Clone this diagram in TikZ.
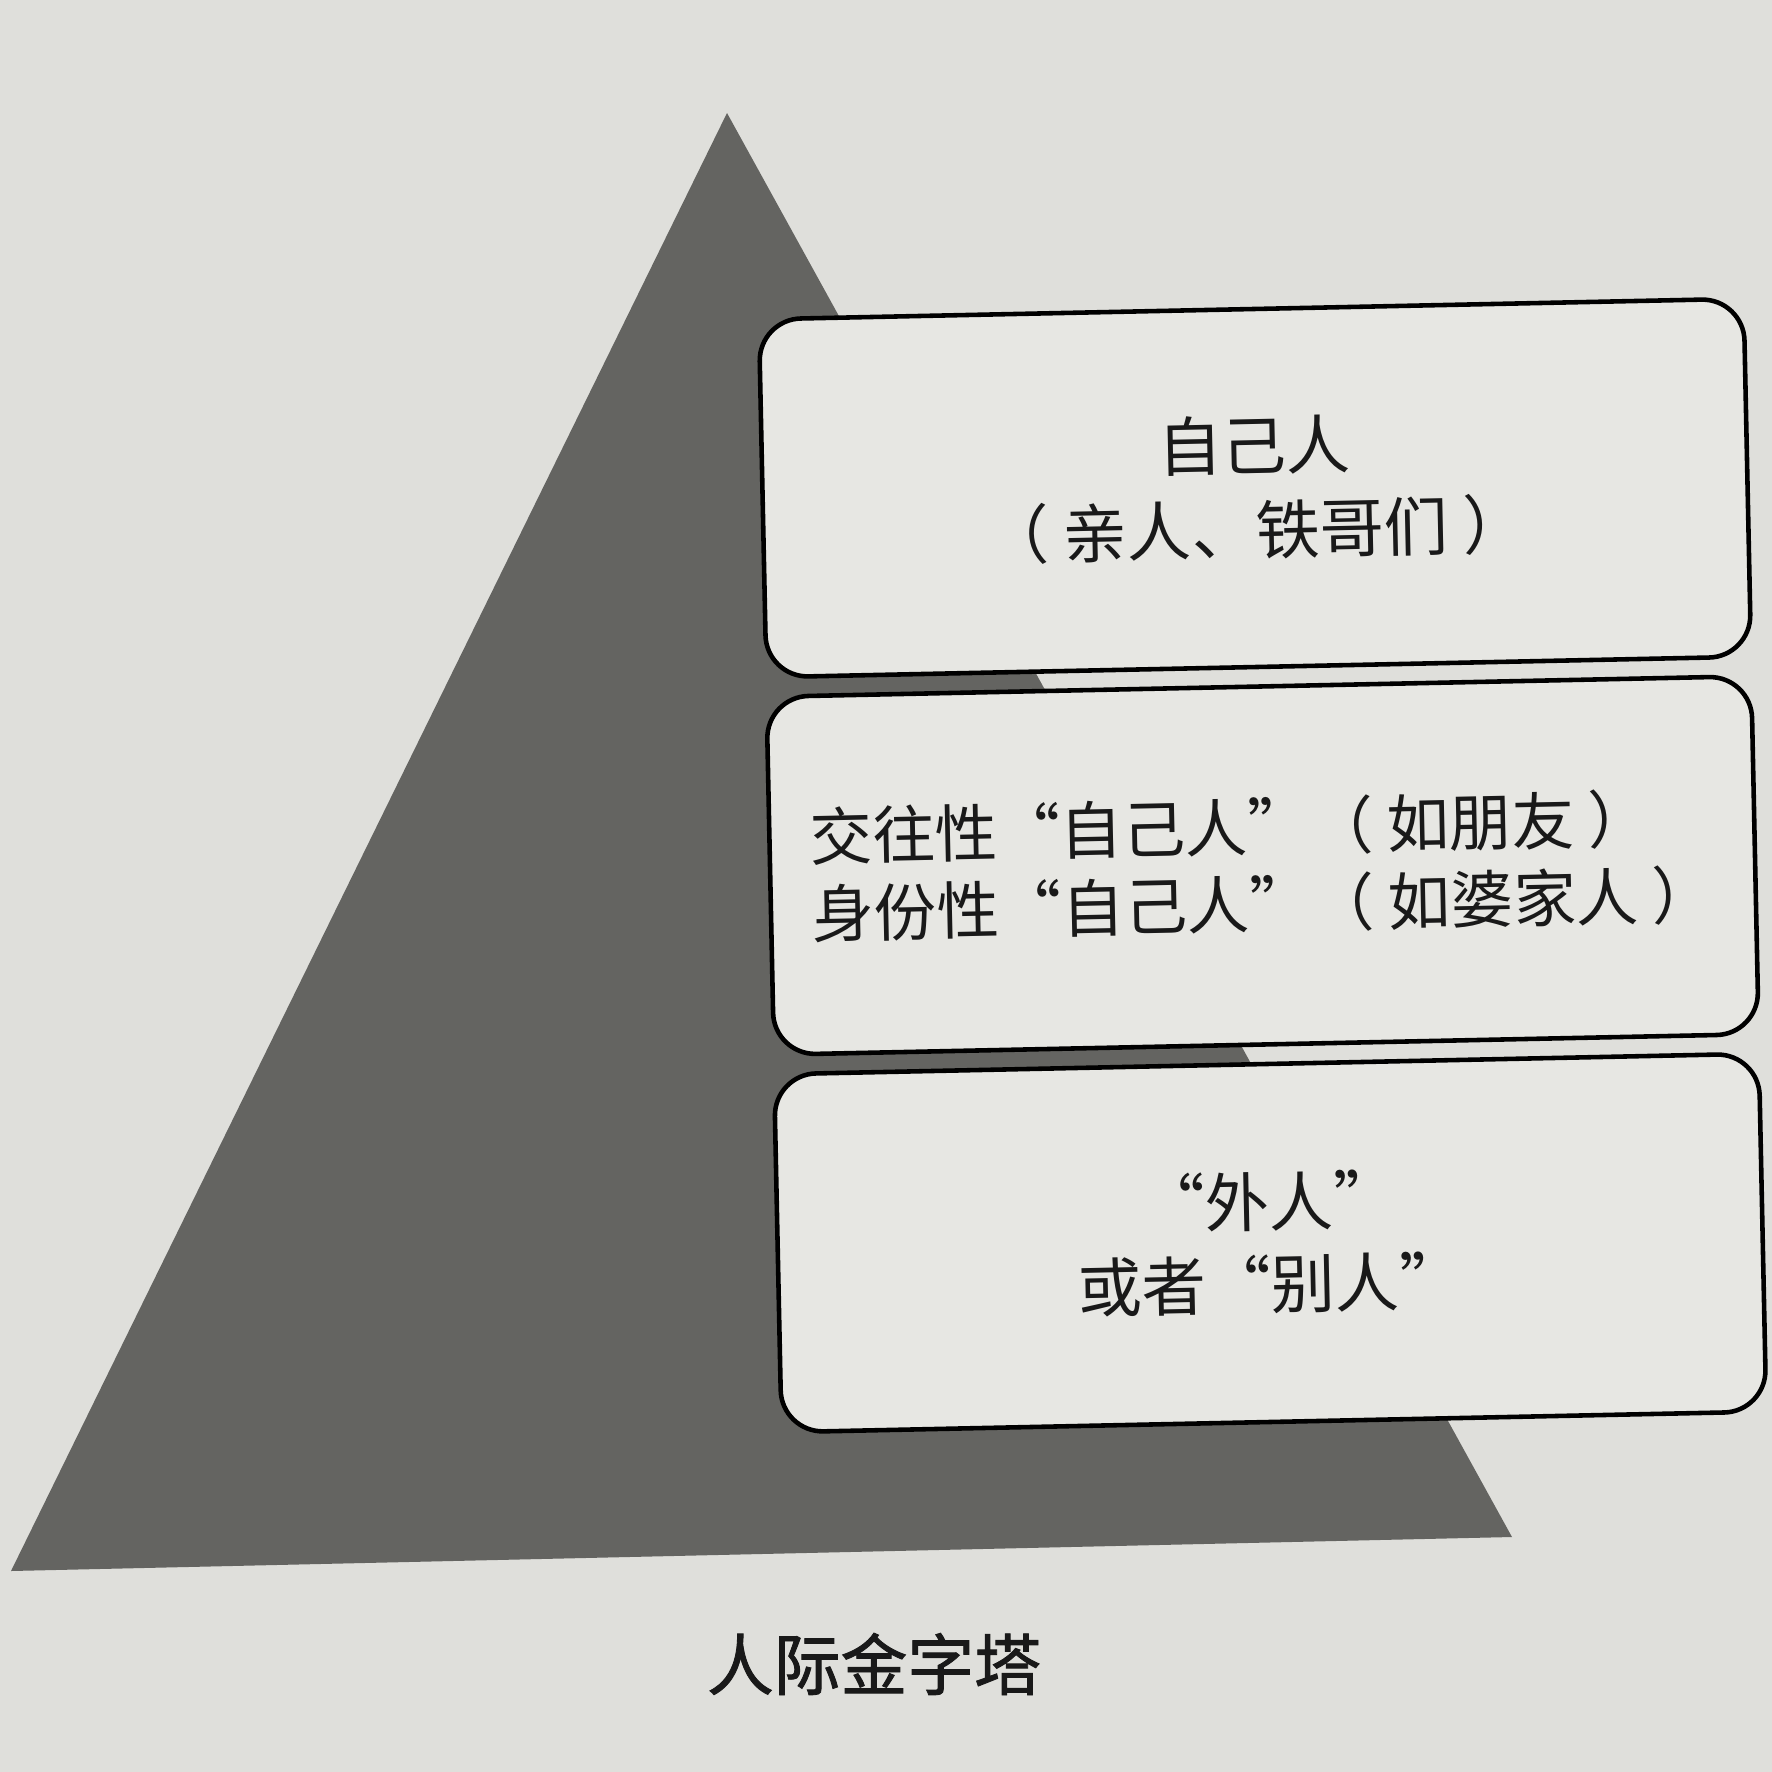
\documentclass[tikz,border=0pt]{standalone}
\usepackage{fontspec}
\newfontfamily\cjk{Noto Sans CJK SC}
\newfontfamily\cjkcap[RawFeature={embolden=1.3}]{Noto Sans CJK SC}
\usetikzlibrary{positioning}
\definecolor{paper}{RGB}{223,223,219}
\definecolor{boxfill}{RGB}{231,231,227}
\definecolor{pyr}{RGB}{100,100,97}
\newcommand\lpar{（\hspace{0.22em}}
\newcommand\rpar{\hspace{0.22em}）}

\begin{document}
\begin{tikzpicture}[node distance=0.15cm,font=\cjk,
	layer/.style={draw=black,line width=1.3pt,fill=boxfill,rounded corners=0.42cm,rotate=1.2,
		minimum width=9.85cm,minimum height=3.58cm,inner sep=0pt},
	every node/.append style={text=black!90}]
	\fill[paper] (0,0) rectangle (17.72,-17.72);
	\useasboundingbox (0,0) rectangle (17.72,-17.72);
	\coordinate (A) at (7.27,-1.13);
	\coordinate (L) at (0.11,-15.71);
	\coordinate (R) at (15.12,-15.37);
	\fill[pyr] (A) -- (L) -- (R) -- cycle;
	\node[layer,align=center,font=\cjk\fontsize{18.3}{24}\selectfont] (ZJ) at (12.55,-4.88) {自己人\\\lpar 亲人、铁哥们\rpar};
	\node[layer,align=left,font=\cjk\fontsize{17.8}{22}\selectfont] (JW) [below=of ZJ] {交往性“自己人”\lpar 如朋友\rpar\\身份性“自己人”\lpar 如婆家人\rpar};
	\node[layer,align=center,font=\cjk\fontsize{18.3}{23.5}\selectfont] (WR) [below=of JW] {“外人”\\或者“别人”};
	\node[font=\cjkcap\fontsize{19}{23}\selectfont] (T) at (8.74,-16.64) {人际金字塔};
\end{tikzpicture}
\end{document}
